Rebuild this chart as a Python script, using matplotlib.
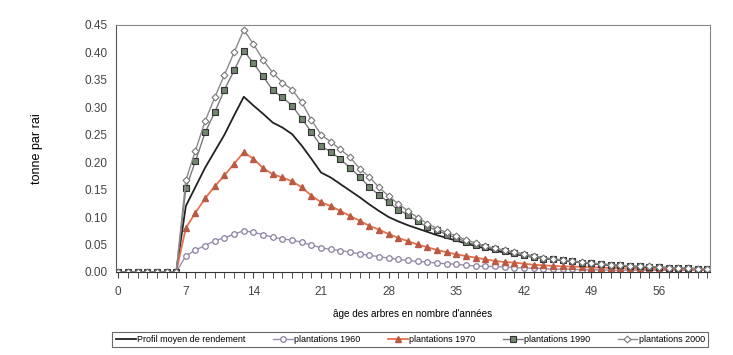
import matplotlib
matplotlib.use("Agg")
from matplotlib import pyplot as plt
import numpy as np

# âge des arbres (années)
ages = list(range(0, 62))

profil_moyen = [0, 0, 0, 0, 0, 0, 0,
                0.120, 0.155, 0.190, 0.220, 0.250, 0.285, 0.319, 0.303, 0.288,
                0.272, 0.263, 0.251, 0.230, 0.206, 0.181, 0.172, 0.160, 0.148,
                0.136, 0.123, 0.111, 0.100, 0.092, 0.085, 0.079, 0.073, 0.067,
                0.062, 0.057, 0.052, 0.047, 0.043, 0.039, 0.035, 0.032, 0.030,
                0.027, 0.025, 0.023, 0.021, 0.019, 0.017, 0.015, 0.014, 0.012,
                0.011, 0.010, 0.009, 0.008, 0.008, 0.007, 0.006, 0.006, 0.005,
                0.005]

plant_1960 = [0, 0, 0, 0, 0, 0, 0,
              0.029, 0.040, 0.048, 0.057, 0.062, 0.069, 0.075, 0.072, 0.068,
              0.063, 0.060, 0.058, 0.054, 0.049, 0.044, 0.041, 0.039, 0.036,
              0.033, 0.030, 0.028, 0.025, 0.023, 0.021, 0.019, 0.018, 0.016,
              0.015, 0.014, 0.012, 0.011, 0.010, 0.010, 0.009, 0.008, 0.007,
              0.007, 0.006, 0.005, 0.005, 0.005, 0.004, 0.004, 0.004, 0.003,
              0.003, 0.003, 0.003, 0.003, 0.003, 0.003, 0.003, 0.003, 0.003,
              0.003]

plant_1970 = [0, 0, 0, 0, 0, 0, 0,
              0.080, 0.108, 0.134, 0.156, 0.176, 0.197, 0.218, 0.206, 0.189,
              0.178, 0.172, 0.165, 0.154, 0.139, 0.127, 0.120, 0.111, 0.102,
              0.093, 0.084, 0.077, 0.069, 0.062, 0.056, 0.050, 0.045, 0.040,
              0.036, 0.032, 0.029, 0.026, 0.023, 0.020, 0.018, 0.017, 0.015,
              0.013, 0.012, 0.011, 0.010, 0.010, 0.009, 0.008, 0.008, 0.007,
              0.007, 0.006, 0.006, 0.005, 0.005, 0.005, 0.004, 0.004, 0.004,
              0.004]

plant_1990 = [0, 0, 0, 0, 0, 0, 0,
              0.152, 0.202, 0.254, 0.291, 0.332, 0.367, 0.403, 0.380, 0.356,
              0.331, 0.318, 0.303, 0.279, 0.255, 0.229, 0.219, 0.205, 0.190,
              0.173, 0.155, 0.140, 0.127, 0.113, 0.104, 0.092, 0.082, 0.076,
              0.068, 0.062, 0.055, 0.049, 0.046, 0.041, 0.038, 0.034, 0.030,
              0.027, 0.024, 0.023, 0.021, 0.019, 0.017, 0.016, 0.014, 0.013,
              0.012, 0.011, 0.010, 0.009, 0.009, 0.008, 0.007, 0.007, 0.006,
              0.006]

plant_2000 = [0, 0, 0, 0, 0, 0, 0,
              0.167, 0.221, 0.275, 0.318, 0.359, 0.400, 0.441, 0.415, 0.386,
              0.363, 0.345, 0.332, 0.309, 0.277, 0.250, 0.237, 0.223, 0.209,
              0.188, 0.173, 0.154, 0.138, 0.124, 0.111, 0.099, 0.088, 0.079,
              0.072, 0.066, 0.058, 0.053, 0.047, 0.043, 0.040, 0.036, 0.033,
              0.029, 0.026, 0.024, 0.022, 0.020, 0.018, 0.016, 0.015, 0.013,
              0.012, 0.011, 0.010, 0.010, 0.009, 0.008, 0.008, 0.007, 0.006,
              0.006]

x_ticks = [0, 7, 14, 21, 28, 35, 42, 49, 56]
y_ticks = [0.00, 0.05, 0.10, 0.15, 0.20, 0.25, 0.30, 0.35, 0.40, 0.45]

plt.rcParams['font.family'] = ['Liberation Sans', 'DejaVu Sans']

fig = plt.figure(figsize=(7.33, 3.55), dpi=100)
ax = fig.add_axes([0.158, 0.234, 0.811, 0.696])

ax.plot(ages, profil_moyen, color='#222222', lw=1.3, label='Profil moyen de rendement')
ax.plot(ages, plant_1960, color='#9a8fb0', lw=1.0, marker='o', ms=4,
        mfc='white', mec='#8a7fa0', mew=0.9, label='plantations 1960')
ax.plot(ages, plant_1970, color='#e8704c', lw=1.3, marker='^', ms=4.5,
        mfc='#b85a44', mec='#b85a44', label='plantations 1970')
ax.plot(ages, plant_1990, color='#7a7a7a', lw=1.0, marker='s', ms=4.5,
        mfc='#738670', mec='#333333', mew=0.8, label='plantations 1990')
ax.plot(ages, plant_2000, color='#8a8a8a', lw=1.0, marker='D', ms=3.5,
        mfc='white', mec='#777777', mew=0.8, label='plantations 2000')

ax.set_xlim(-0.25, 61.3)
ax.set_ylim(0, 0.45)
ax.set_xticks(x_ticks)
ax.set_xticks(range(0, 62), minor=True)
ax.set_yticks(y_ticks)
ax.set_yticklabels(['%.2f' % v for v in y_ticks])
ax.tick_params(axis='y', length=0, labelsize=8.5, colors='#444444', pad=6)
ax.tick_params(axis='x', which='major', length=4, labelsize=8.5, colors='#444444', pad=6)
ax.tick_params(axis='x', which='minor', length=4, color='#333333')

for s in ['top', 'right']:
    ax.spines[s].set_color('#888888')
ax.spines['left'].set_color('#555555')
ax.spines['bottom'].set_color('#333333')

ax.set_ylabel('tonne par rai', fontsize=9, labelpad=30)
ax.set_xlabel("âge des arbres en nombre d'années", fontsize=7.2, labelpad=8)

leg = fig.legend(loc='center', bbox_to_anchor=(0.56, 0.043), ncol=5, fontsize=6.5,
                 frameon=True, fancybox=False, edgecolor='#444444',
                 handlelength=2.2, columnspacing=3.0, handletextpad=0.2,
                 borderpad=0.35)
leg.get_frame().set_linewidth(0.8)

plt.savefig("out.png", dpi=100)
